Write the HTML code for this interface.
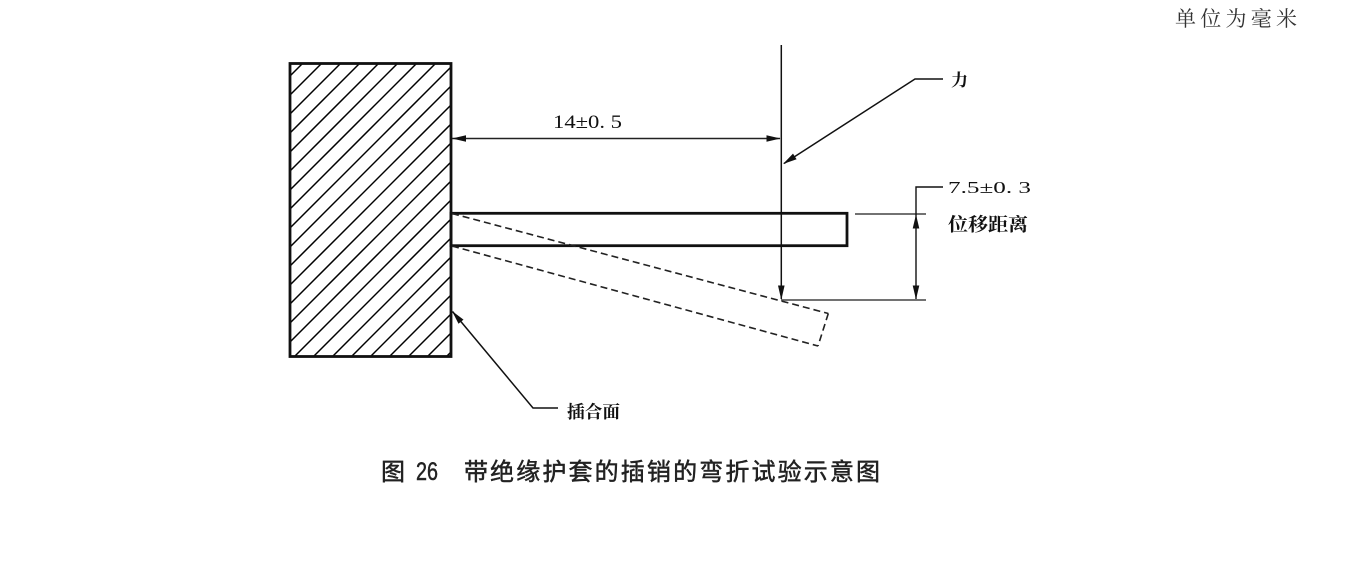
<!DOCTYPE html>
<html><head><meta charset="utf-8"><style>
html,body{margin:0;padding:0;background:#fff;width:1366px;height:575px;overflow:hidden;}
svg{display:block;}
</style></head><body>
<svg width="1366" height="575" viewBox="0 0 1366 575" xmlns="http://www.w3.org/2000/svg">
<rect width="1366" height="575" fill="#fff"/>
<!-- hatching -->
<g stroke="#000" stroke-width="1.5">
<line x1="302.5" y1="63.5" x2="290" y2="76"/>
<line x1="321.5" y1="63.5" x2="290" y2="95"/>
<line x1="340.5" y1="63.5" x2="290" y2="114"/>
<line x1="359.5" y1="63.5" x2="290" y2="133"/>
<line x1="378.5" y1="63.5" x2="290" y2="152"/>
<line x1="397.5" y1="63.5" x2="290" y2="171"/>
<line x1="416.5" y1="63.5" x2="290" y2="190"/>
<line x1="435.5" y1="63.5" x2="290" y2="209"/>
<line x1="451" y1="67" x2="290" y2="228"/>
<line x1="451" y1="86" x2="290" y2="247"/>
<line x1="451" y1="105" x2="290" y2="266"/>
<line x1="451" y1="124" x2="290" y2="285"/>
<line x1="451" y1="143" x2="290" y2="304"/>
<line x1="451" y1="162" x2="290" y2="323"/>
<line x1="451" y1="181" x2="290" y2="342"/>
<line x1="451" y1="200" x2="294.5" y2="356.5"/>
<line x1="451" y1="219" x2="313.5" y2="356.5"/>
<line x1="451" y1="238" x2="332.5" y2="356.5"/>
<line x1="451" y1="257" x2="351.5" y2="356.5"/>
<line x1="451" y1="276" x2="370.5" y2="356.5"/>
<line x1="451" y1="295" x2="389.5" y2="356.5"/>
<line x1="451" y1="314" x2="408.5" y2="356.5"/>
<line x1="451" y1="333" x2="427.5" y2="356.5"/>
<line x1="451" y1="352" x2="446.5" y2="356.5"/>
</g>
<rect x="290" y="63.5" width="161" height="293" fill="none" stroke="#111" stroke-width="2.8"/>

<!-- pin -->
<rect x="451" y="213.3" width="396" height="32.4" fill="none" stroke="#111" stroke-width="2.8"/>

<!-- dashed bent pin -->
<g stroke="#222" stroke-width="1.6" fill="none" stroke-dasharray="7,4">
<line x1="452" y1="213.5" x2="828.3" y2="313.5"/>
<line x1="452" y1="246" x2="818" y2="346"/>
<line x1="828.3" y1="313.5" x2="818" y2="346"/>
</g>

<!-- vertical force line -->
<line x1="781.3" y1="45" x2="781.3" y2="299" stroke="#111" stroke-width="1.5"/>
<polygon points="781.3,300 778,285.5 784.6,285.5" fill="#111"/>

<!-- dimension 14 -->
<line x1="452" y1="138.5" x2="780" y2="138.5" stroke="#222" stroke-width="1.4"/>
<polygon points="452,138.5 466,135.2 466,141.8" fill="#111"/>
<polygon points="780.5,138.5 766.5,135.2 766.5,141.8" fill="#111"/>
<text x="553" y="128" font-family="Liberation Serif, Noto Serif CJK SC, serif" font-size="19" textLength="69" lengthAdjust="spacingAndGlyphs" fill="#111">14±0. 5</text>

<!-- force leader -->
<polyline points="943,79 915,79 784,163.5" fill="none" stroke="#111" stroke-width="1.5"/>
<polygon points="783,164 796.6,159.2 793,153.6" fill="#111"/>
<text x="951" y="86" font-family="Liberation Serif, Noto Serif CJK SC, serif" font-size="17" font-weight="bold" fill="#111">力</text>

<!-- displacement dimension -->
<line x1="855" y1="214" x2="926" y2="214" stroke="#444" stroke-width="1.4"/>
<line x1="781" y1="300" x2="926" y2="300" stroke="#444" stroke-width="1.4"/>
<polyline points="943,187 916,187 916,299" fill="none" stroke="#111" stroke-width="1.4"/>
<polygon points="916,214.5 912.7,228.5 919.3,228.5" fill="#111"/>
<polygon points="916,299.5 912.7,285.5 919.3,285.5" fill="#111"/>
<text x="948" y="193" font-family="Liberation Serif, Noto Serif CJK SC, serif" font-size="17" textLength="83" lengthAdjust="spacingAndGlyphs" fill="#111">7.5±0. 3</text>
<text x="948" y="231" font-family="Liberation Serif, Noto Serif CJK SC, serif" font-size="18.5" font-weight="bold" textLength="80" lengthAdjust="spacingAndGlyphs" fill="#111">位移距离</text>

<!-- mating face leader -->
<polyline points="452.5,311.5 533,408 558,408" fill="none" stroke="#111" stroke-width="1.5"/>
<polygon points="452,311 463.5,319.6 458.5,323.8" fill="#111"/>
<text x="567" y="418" font-family="Liberation Serif, Noto Serif CJK SC, serif" font-size="17.5" font-weight="bold" textLength="53" lengthAdjust="spacingAndGlyphs" fill="#111">插合面</text>

<!-- units -->
<text x="1175" y="26" font-family="Liberation Serif, Noto Serif CJK SC, serif" font-size="21" textLength="122" lengthAdjust="spacing" fill="#333">单位为毫米</text>

<!-- caption -->
<g font-family="Liberation Sans, Noto Sans CJK SC, sans-serif" font-size="24" fill="#222" stroke="#222" stroke-width="0.5">
<text x="381" y="480">图</text>
<text x="416" y="480" font-size="25" textLength="22" lengthAdjust="spacingAndGlyphs">26</text>
<text x="464" y="480" textLength="416" lengthAdjust="spacing">带绝缘护套的插销的弯折试验示意图</text>
</g>
</svg>
</body></html>
